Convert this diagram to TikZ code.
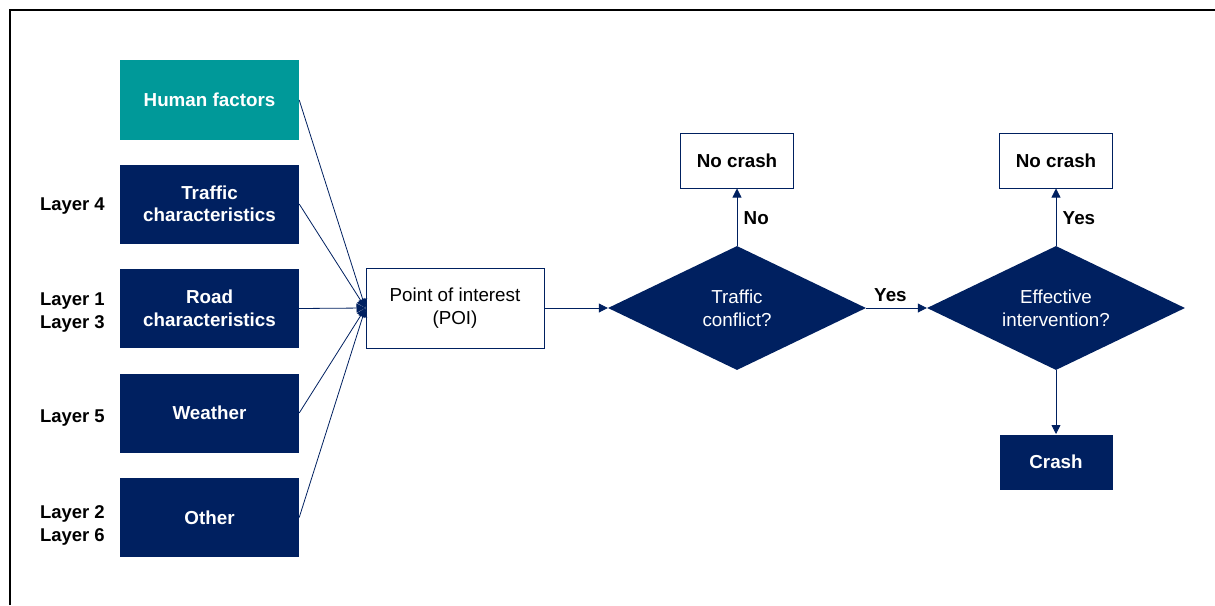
\documentclass[tikz,border=0pt]{standalone}
\usepackage{fontspec}
\setmainfont{Liberation Sans}
\usetikzlibrary{shapes.geometric,arrows.meta}
\definecolor{navy}{HTML}{002060}
\definecolor{teal}{HTML}{009999}
\begin{document}
\begin{tikzpicture}[x=1pt,y=-1pt,
  font=\fontsize{18.8}{23}\selectfont,
  factor/.style={fill=navy,text=white,font=\fontsize{18.8}{22.5}\selectfont\bfseries,
    minimum width=179pt,minimum height=79pt,inner sep=0pt,align=center},
  outbox/.style={draw=navy,line width=1pt,fill=white,text=black,
    minimum width=113pt,minimum height=55pt,inner sep=0pt,font=\fontsize{18.8}{23}\selectfont\bfseries},
  decision/.style={diamond,fill=navy,text=white,aspect=2,inner sep=0pt,
    minimum width=258pt,minimum height=124pt,align=center},
  layer/.style={anchor=east,align=left,inner sep=0pt,font=\fontsize{18.5}{23}\selectfont\bfseries},
  conn/.style={draw=navy,line width=0.8pt},
  arr/.style={conn,-{Triangle[length=9pt,width=9pt]}},
  lbl/.style={font=\fontsize{18.8}{23}\selectfont\bfseries}]
\useasboundingbox (0,0) rectangle (1215,605);
% frame
\draw[line width=2pt] (10,605) -- (10,10) -- (1215,10);

% influencing factors
\node[factor,fill=teal,minimum height=80pt] (hf) at (209.5,100) {Human factors};
\node[factor] (tc) at (209.5,204) {Traffic\\characteristics};
\node[factor] (rc) at (209.5,308.5) {Road\\characteristics};
\node[factor] (we) at (209.5,413) {Weather};
\node[factor] (ot) at (209.5,517.5) {Other};

% layer labels
\node[layer] (l4) at (105,206) {Layer 4};
\node[layer] (l13) at (105,313) {Layer 1\\Layer 3};
\node[layer] (l5) at (105,418) {Layer 5};
\node[layer] (l26) at (105,525.5) {Layer 2\\Layer 6};

% point of interest
\node[draw=navy,line width=1pt,minimum width=178pt,minimum height=80pt,inner sep=0pt,align=center]
  (poi) at (455,308) {Point of interest\\(POI)};

% decisions
\node[decision] (d1) at (737,308) {Traffic\\conflict?};
\node[decision] (d2) at (1056,308) {Effective\\intervention?};

% outcomes
\node[outbox] (nc1) at (737,160.5) {No crash};
\node[outbox] (nc2) at (1056,160.5) {No crash};
\node[outbox,draw=none,fill=navy,text=white] (cr) at (1056,462) {Crash};

% connectors
\foreach \f in {hf,tc,rc,we,ot}
  \draw[arr] (\f.east) -- (poi.west);
\draw[arr] (poi.east) -- (d1.west);
\draw[arr] (d1.north) -- node[lbl,right=3pt,pos=0.48] (no1) {No} (nc1.south);
\draw[arr] (d1.east) -- node[lbl,above=3pt,pos=0.4] (yes1) {Yes} (d2.west);
\draw[arr] (d2.north) -- node[lbl,right=3pt,pos=0.48] (yes2) {Yes} (nc2.south);
\draw[arr] (d2.south) -- (cr.north);
\end{tikzpicture}
\end{document}
